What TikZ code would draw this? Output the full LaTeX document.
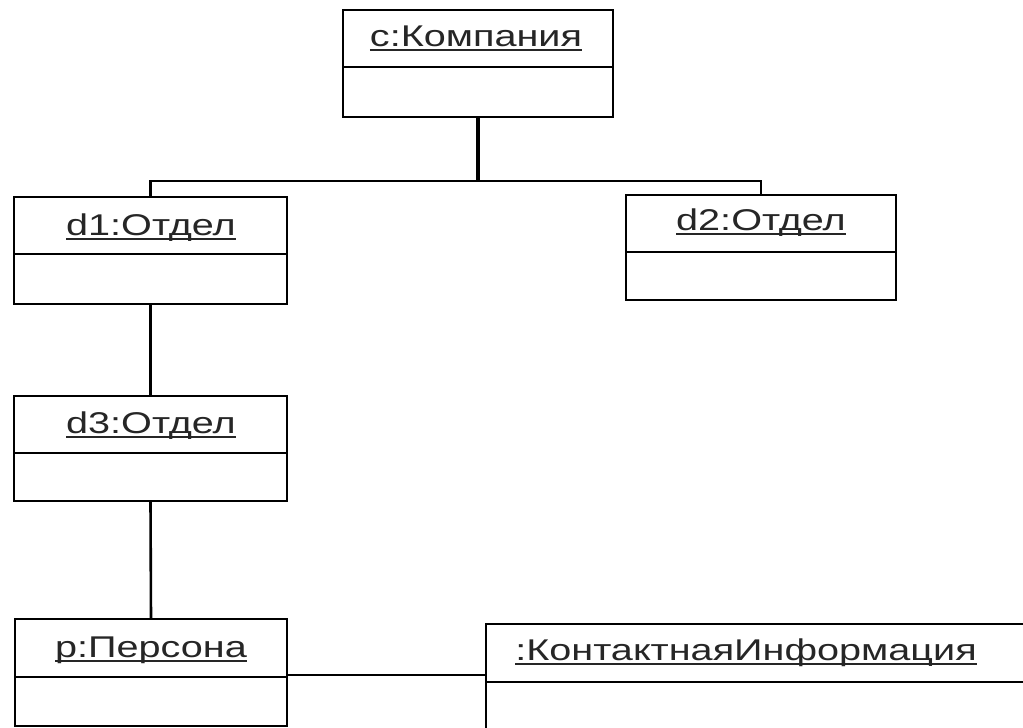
\documentclass[tikz,border=0pt]{standalone}
\usepackage{fontspec}
\setmainfont{Liberation Sans}
\newsavebox\objnamebox
% underlined object name, stretched horizontally
\newcommand\objname[1]{\scalebox{1.32}[1]{\sbox\objnamebox{#1}\usebox\objnamebox\llap{\rule[-4.5pt]{\wd\objnamebox}{1.6pt}}}}
\begin{document}
\begin{tikzpicture}[x=1pt,y=-1pt,
  objbox/.style={draw, line width=2.6pt, anchor=north west, inner sep=0pt, outer sep=0pt},
  objlabel/.style={anchor=base, inner sep=0pt, font=\fontsize{30}{36}\selectfont, text=black!85},
  divider/.style={line width=2.6pt},
  link/.style={line width=2.6pt}]
\useasboundingbox (0,0) rectangle (1023,728);
\begin{scope}
\clip (0,0) rectangle (1023,728);
% object boxes
\node[objbox, minimum width=270, minimum height=107] (c) at (343,10) {};
\node[objbox, minimum width=273, minimum height=107] (d1) at (14,197) {};
\node[objbox, minimum width=270, minimum height=105] (d2) at (626,195) {};
\node[objbox, minimum width=273, minimum height=105] (d3) at (14,396) {};
\node[objbox, minimum width=272, minimum height=107] (p) at (15,619) {};
\node[objbox, minimum width=560, minimum height=120] (k) at (486,624) {};
% compartment dividers
\draw[divider] (c.west |- 0,67) -- (c.east |- 0,67);
\draw[divider] (d1.west |- 0,254) -- (d1.east |- 0,254);
\draw[divider] (d2.west |- 0,252) -- (d2.east |- 0,252);
\draw[divider] (d3.west |- 0,453) -- (d3.east |- 0,453);
\draw[divider] (p.west |- 0,677) -- (p.east |- 0,677);
\draw[divider] (k.west |- 0,682) -- (k.east |- 0,682);
% object names
\node[objlabel] (cl) at (476,46) {\objname{c:Компания}};
\node[objlabel] (d1l) at (151,235) {\objname{d1:Отдел}};
\node[objlabel] (d2l) at (761,230) {\objname{d2:Отдел}};
\node[objlabel] (d3l) at (151,433) {\objname{d3:Отдел}};
\node[objlabel] (pl) at (151,657) {\objname{p:Персона}};
\node[objlabel] (kl) at (746,660) {\objname{:КонтактнаяИнформация}};
% links
\coordinate (j) at (c.south |- 0,181);
\draw[link, line width=3.6pt] (c.south) -- (j);
\draw[link] (d1.north) |- (j);
\draw[link] (d2.north) |- (j);
\draw[link] (d1.south) -- (d3.north);
\draw[link] (d3.south) -- (p.north);
\draw[link] (p.east |- 0,675) -- (k.west |- 0,675);
\end{scope}
\end{tikzpicture}
\end{document}
